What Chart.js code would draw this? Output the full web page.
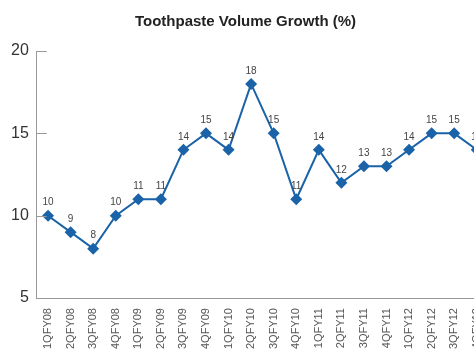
<!DOCTYPE html>
<html>
<head>
<meta charset="utf-8">
<script src="https://cdn.jsdelivr.net/npm/chart.js@4.4.1/dist/chart.umd.min.js"></script>
<style>
  html, body { margin: 0; padding: 0; overflow: hidden; background: #fff; }
  #wrap { position: relative; width: 504px; height: 360px; }
</style>
</head>
<body>
<div id="wrap"><canvas id="growth"></canvas></div>
<script>
// quarterly toothpaste volume growth
const quarters = ['1QFY08', '2QFY08', '3QFY08', '4QFY08', '1QFY09', '2QFY09', '3QFY09', '4QFY09',
  '1QFY10', '2QFY10', '3QFY10', '4QFY10', '1QFY11', '2QFY11', '3QFY11', '4QFY11',
  '1QFY12', '2QFY12', '3QFY12', '4QFY12'];
const growth = [10, 9, 8, 10, 11, 11, 14, 15, 14, 18, 15, 11, 14, 12, 13, 13, 14, 15, 15, 14];
const yTicks = [5, 10, 15, 20];

const blue = '#1a63a8';

// value labels above each point
const pointLabels = {
  id: 'pointLabels',
  afterDatasetsDraw(chart) {
    const ctx = chart.ctx;
    const meta = chart.getDatasetMeta(0);
    ctx.save();
    ctx.font = '10px "Liberation Sans", Arial, sans-serif';
    ctx.fillStyle = '#444';
    ctx.textAlign = 'center';
    ctx.textBaseline = 'bottom';
    meta.data.forEach(function (pt, i) {
      ctx.fillText(growth[i], pt.x, pt.y - 8);
    });
    ctx.restore();
  }
};

// short inward ticks on the y axis
const yAxisTicks = {
  id: 'yAxisTicks',
  afterDraw(chart) {
    const ctx = chart.ctx;
    const y = chart.scales.y;
    ctx.save();
    ctx.strokeStyle = '#999';
    ctx.lineWidth = 1;
    yTicks.forEach(function (v) {
      const py = Math.round(y.getPixelForValue(v)) + 0.5;
      ctx.beginPath();
      ctx.moveTo(y.right, py);
      ctx.lineTo(y.right + 10, py);
      ctx.stroke();
    });
    ctx.restore();
  }
};

new Chart(document.getElementById('growth'), {
  type: 'line',
  data: {
    labels: quarters,
    datasets: [{
      data: growth,
      borderColor: blue,
      backgroundColor: blue,
      borderWidth: 2,
      pointStyle: 'rectRot',
      pointRadius: 6,
      pointBorderWidth: 0,
      tension: 0
    }]
  },
  options: {
    responsive: true,
    maintainAspectRatio: false,
    animation: false,
    layout: { padding: { left: 3, right: 16, top: 0, bottom: 1 } },
    plugins: {
      legend: { display: false },
      tooltip: { enabled: false },
      title: {
        display: true,
        text: 'Toothpaste Volume Growth (%)',
        color: '#222',
        font: { family: '"Liberation Sans", Arial, sans-serif', size: 15, weight: 'bold' },
        padding: { top: 13, bottom: 20 }
      }
    },
    scales: {
      x: {
        offset: true,
        grid: { display: false, drawTicks: false },
        border: { color: '#999', width: 1 },
        ticks: {
          color: '#555',
          font: { family: '"Liberation Sans", Arial, sans-serif', size: 11 },
          maxRotation: 90,
          minRotation: 90,
          padding: 10,
          autoSkip: false
        }
      },
      y: {
        min: 5,
        max: 20,
        afterBuildTicks(scale) {
          scale.ticks = yTicks.map(function (v) { return { value: v }; });
        },
        grid: { display: false, drawTicks: false },
        border: { color: '#999', width: 1 },
        ticks: {
          color: '#333',
          font: { family: '"Liberation Sans", Arial, sans-serif', size: 16 },
          padding: 8
        }
      }
    }
  },
  plugins: [pointLabels, yAxisTicks]
});
</script>
</body>
</html>
